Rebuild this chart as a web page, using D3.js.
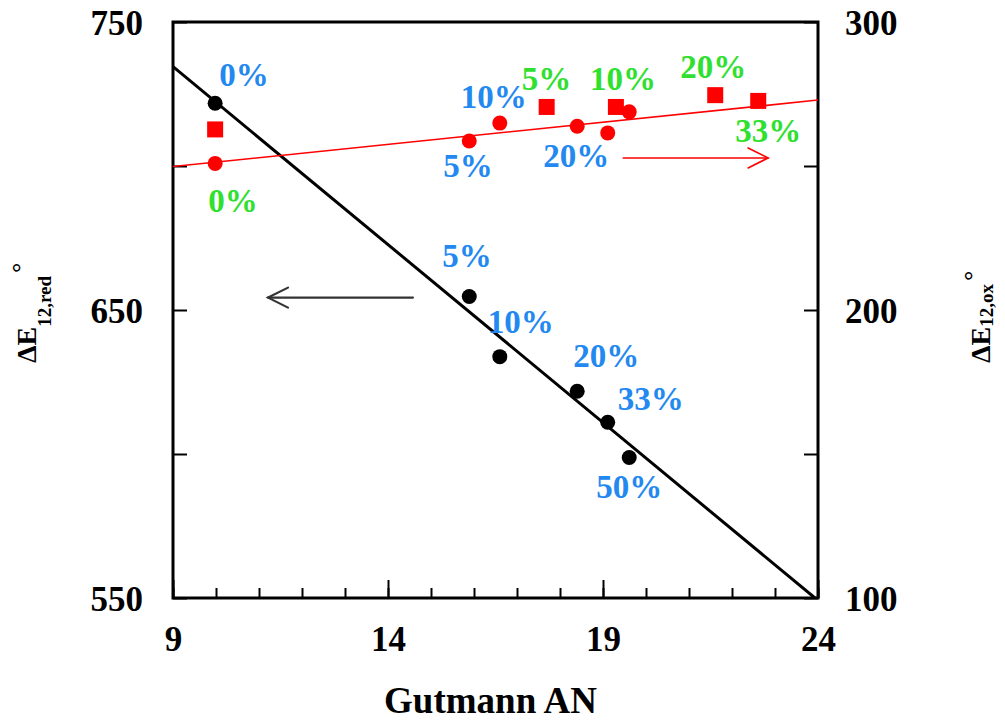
<!DOCTYPE html>
<html>
<head>
<meta charset="utf-8">
<script src="https://cdn.jsdelivr.net/npm/d3@7"></script>
<style>
  html, body { margin: 0; padding: 0; background: #fff; }
  svg text { font-family: "Liberation Serif", "Times New Roman", serif; font-weight: bold; }
</style>
</head>
<body>
<svg id="chart" width="1005" height="721"></svg>
<script>
// Gutmann acceptor number of each solvent mixture (circle series)
const anCircle = [9.98, 15.89, 16.60, 18.40, 19.11, 19.61];
// ΔE°12,red (left axis) for the circle series
const eRed = [721.8, 654.7, 633.8, 621.8, 611.0, 598.8];
// ΔE°12,ox (right axis) for the circle series
const eOxCircle = [250.9, 258.7, 264.9, 263.8, 261.5, 268.8];
const circleLabels = ["0%", "5%", "10%", "20%", "33%", "50%"];
const oxCircleLabels = [null, "5%", "10%", "20%", null, null];

// Square series (right axis)
const anSquare = [9.98, 17.69, 19.30, 21.61, 22.61];
const eOxSquare = [262.7, 270.5, 270.5, 274.6, 272.6];
const squareLabels = ["0%", "5%", "10%", "20%", "33%"];

// Linear fits
const fitRedAN = [9, 23.93];
const fitRedE = [734.5, 550];
const fitOxAN = [9, 24];
const fitOxE = [249.8, 272.9];

// Axis ticks
const xMajorTicks = [9, 14, 19, 24];
const xMinorTicks = d3.range(9, 25, 1);
const leftTicks = [550, 600, 650, 700, 750];
const leftLabels = [550, 650, 750];
const rightTicks = [100, 150, 200, 250, 300];
const rightLabels = [100, 200, 300];

// Direction arrows (which axis each series belongs to)
const arrowLeftAN = [14.58, 11.21];
const arrowLeftE = 654.3;
const arrowRightAN = [19.47, 22.84];
const arrowRightE = 252.8;

// ---- layout ----
const plot = { left: 173, right: 818, top: 22, bottom: 598 };
const BLUE = "#2389f0", GREEN = "#2fe02f", RED = "#ff0000";
const SERIF = '"Liberation Serif", "Times New Roman", serif';

const x = d3.scaleLinear().domain([9, 24]).range([plot.left, plot.right]);
const yL = d3.scaleLinear().domain([550, 750]).range([plot.bottom, plot.top]);
const yR = d3.scaleLinear().domain([100, 300]).range([plot.bottom, plot.top]);

const svg = d3.select("#chart");

svg.append("defs").append("clipPath").attr("id", "plotClip")
  .append("rect")
  .attr("x", plot.left).attr("y", plot.top)
  .attr("width", plot.right - plot.left).attr("height", plot.bottom - plot.top);

// ---- axes (ticks pointing inward) ----
function styleAxis(g) {
  g.select(".domain").remove();
  g.selectAll(".tick line").attr("stroke", "#000").attr("stroke-width", 2);
  g.attr("font-family", SERIF);
}

svg.append("g").attr("transform", `translate(0,${plot.bottom})`)
  .call(d3.axisBottom(x).tickValues(xMinorTicks).tickSize(-10).tickFormat(""))
  .call(styleAxis);

const xMajor = svg.append("g").attr("transform", `translate(0,${plot.bottom})`)
  .call(d3.axisBottom(x).tickValues(xMajorTicks).tickSize(-18).tickFormat(d3.format("d")))
  .call(styleAxis);
xMajor.selectAll("text")
  .attr("y", 53).attr("dy", null)
  .attr("fill", "#000").style("font-size", "35px").style("font-family", SERIF);

const yLeftAxis = svg.append("g").attr("transform", `translate(${plot.left},0)`)
  .call(d3.axisLeft(yL).tickValues(leftTicks).tickSize(-14)
    .tickFormat(d => leftLabels.includes(d) ? d : ""))
  .call(styleAxis);
yLeftAxis.selectAll("text")
  .attr("x", -30).attr("dy", "0.36em")
  .attr("fill", "#000").style("font-size", "35px").style("font-family", SERIF);

const yRightAxis = svg.append("g").attr("transform", `translate(${plot.right},0)`)
  .call(d3.axisRight(yR).tickValues(rightTicks).tickSize(-14)
    .tickFormat(d => rightLabels.includes(d) ? d : ""))
  .call(styleAxis);
yRightAxis.selectAll("text")
  .attr("x", 27).attr("dy", "0.36em")
  .attr("fill", "#000").style("font-size", "35px").style("font-family", SERIF);

// frame
svg.append("rect")
  .attr("x", plot.left).attr("y", plot.top)
  .attr("width", plot.right - plot.left).attr("height", plot.bottom - plot.top)
  .attr("fill", "none").attr("stroke", "#000").attr("stroke-width", 3);

// ---- fit lines ----
const clipG = svg.append("g").attr("clip-path", "url(#plotClip)");
clipG.append("line")
  .attr("x1", x(fitRedAN[0])).attr("y1", yL(fitRedE[0]))
  .attr("x2", x(fitRedAN[1])).attr("y2", yL(fitRedE[1]))
  .attr("stroke", "#000").attr("stroke-width", 3);
clipG.append("line")
  .attr("x1", x(fitOxAN[0])).attr("y1", yR(fitOxE[0]))
  .attr("x2", x(fitOxAN[1])).attr("y2", yR(fitOxE[1]))
  .attr("stroke", RED).attr("stroke-width", 1.6);

// ---- markers ----
svg.append("g").selectAll("rect")
  .data(anSquare.map((a, i) => ({ a, e: eOxSquare[i] })))
  .join("rect")
  .attr("x", d => x(d.a) - 8).attr("y", d => yR(d.e) - 8)
  .attr("width", 16).attr("height", 16)
  .attr("fill", RED);

svg.append("g").selectAll("circle")
  .data(anCircle.map((a, i) => ({ a, e: eOxCircle[i] })))
  .join("circle")
  .attr("cx", d => x(d.a)).attr("cy", d => yR(d.e)).attr("r", 7.5)
  .attr("fill", RED);

svg.append("g").selectAll("circle")
  .data(anCircle.map((a, i) => ({ a, e: eRed[i] })))
  .join("circle")
  .attr("cx", d => x(d.a)).attr("cy", d => yL(d.e)).attr("r", 7.5)
  .attr("fill", "#000");

// ---- point labels (text start / baseline offsets from each point) ----
const redLabelOffsets = [[4, -17], [-27, -29], [-12, -24], [-4, -24], [10, -12], [-33, 41]];
const oxCircleLabelOffsets = [null, [-26, 36], [-39, -15], [-34, 41], null, null];
const squareLabelOffsets = [[-7, 83], [-25, -17], [-26, -17], [-35, -17], [-23, 41]];

function addLabels(xs, ys, scaleY, labels, offsets, color) {
  const items = xs.map((a, i) => ({ a, e: ys[i], t: labels[i], o: offsets[i] }))
    .filter(d => d.t);
  svg.append("g").selectAll("text")
    .data(items)
    .join("text")
    .attr("x", d => x(d.a) + d.o[0])
    .attr("y", d => scaleY(d.e) + d.o[1])
    .attr("fill", color)
    .style("font-family", SERIF)
    .style("font-weight", "bold")
    .style("font-size", "33px")
    .text(d => d.t);
}
addLabels(anCircle, eRed, yL, circleLabels, redLabelOffsets, BLUE);
addLabels(anCircle, eOxCircle, yR, oxCircleLabels, oxCircleLabelOffsets, BLUE);
addLabels(anSquare, eOxSquare, yR, squareLabels, squareLabelOffsets, GREEN);

// ---- arrows ----
function arrow(x1, x2, yPix, color, width) {
  const g = svg.append("g").attr("stroke", color).attr("stroke-width", width)
    .attr("fill", "none").attr("stroke-linecap", "round");
  const dir = Math.sign(x2 - x1);
  g.append("line").attr("x1", x1).attr("y1", yPix).attr("x2", x2).attr("y2", yPix);
  g.append("path")
    .attr("d", `M${x2 - dir * 20},${yPix - 10} L${x2},${yPix} L${x2 - dir * 20},${yPix + 10}`);
}
arrow(x(arrowLeftAN[0]), x(arrowLeftAN[1]), yL(arrowLeftE), "#333", 2.2);
arrow(x(arrowRightAN[0]), x(arrowRightAN[1]), yR(arrowRightE), RED, 1.6);

// ---- axis titles ----
svg.append("text")
  .attr("x", (plot.left + plot.right) / 2 - 5).attr("y", 713)
  .attr("text-anchor", "middle").attr("fill", "#000")
  .style("font-family", SERIF)
  .style("font-size", "37px")
  .text("Gutmann AN");

function yTitle(tx, ty, sub, subShift, degShift) {
  const t = svg.append("text")
    .attr("transform", `translate(${tx},${ty}) rotate(-90)`)
    .attr("fill", "#000")
    .style("font-family", SERIF);
  t.append("tspan").style("font-size", "28px").text("ΔE");
  t.append("tspan").style("font-size", "19px").attr("dy", subShift).text(sub);
  t.append("tspan").style("font-size", "26px").attr("dy", degShift).attr("dx", 3).text("°");
}
yTitle(36, 363, "12,red", 15, -22);
yTitle(990, 363, "12,ox", 3, -12);
</script>
</body>
</html>
